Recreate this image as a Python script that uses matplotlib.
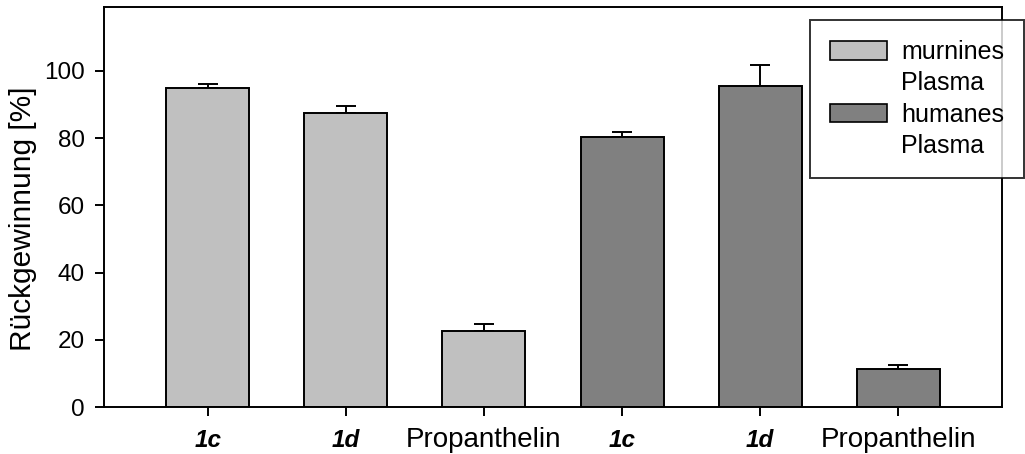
import matplotlib.pyplot as plt
from matplotlib.patches import Patch

plt.rcParams['font.family'] = ['Liberation Sans', 'DejaVu Sans']

# Daten
kategorien = ['1c', '1d', 'Propanthelin', '1c', '1d', 'Propanthelin']
werte = [94.8, 87.5, 22.5, 80.3, 95.5, 11.3]
fehler = [1.2, 2.1, 2.3, 1.6, 6.3, 1.1]
gruppe = [0, 0, 0, 1, 1, 1]
farben = ['#c0c0c0', '#808080']
legende = ['murnines', 'humanes']

fig = plt.figure(figsize=(10.25, 4.54), dpi=100)
ax = fig.add_axes([104 / 1025, 47 / 454, 898 / 1025, 400 / 454])

x = list(range(len(werte)))
ax.bar(x, werte, width=0.6, color=[farben[g] for g in gruppe],
       edgecolor='black', linewidth=1.4, zorder=2)
ax.errorbar(x, werte, yerr=[[0] * len(fehler), fehler], fmt='none',
            ecolor='black', elinewidth=1.4, capsize=7, capthick=1.4, zorder=1)

ax.set_xlim(-0.75, 5.75)
ax.set_ylim(0, 119)
ax.set_yticks([0, 20, 40, 60, 80, 100])
ax.set_xticks(x)
ax.set_xticklabels(kategorien)
for lab in ax.get_xticklabels():
    lab.set_verticalalignment('baseline')
    if lab.get_text() == 'Propanthelin':
        lab.set_fontsize(20)
    else:
        lab.set_fontsize(17.5)
        lab.set_fontweight('bold')
        lab.set_fontstyle('italic')
ax.tick_params(axis='y', labelsize=17.5, length=6.5, width=1.4,
               direction='out', pad=7.5)
ax.tick_params(axis='x', length=6.5, width=1.4, direction='out', pad=22.5)
for s in ax.spines.values():
    s.set_linewidth(1.4)
ax.set_ylabel('Rückgewinnung [%]', fontsize=21.5)
ax.yaxis.set_label_coords(-0.0746, 0.47)

# Legende
handles = [Patch(facecolor=farben[0], edgecolor='black', linewidth=1.2),
           Patch(facecolor='none', edgecolor='none'),
           Patch(facecolor=farben[1], edgecolor='black', linewidth=1.2),
           Patch(facecolor='none', edgecolor='none')]
labels = [legende[0], 'Plasma', legende[1], 'Plasma']
leg = fig.legend(handles, labels, loc='upper left',
                 bbox_to_anchor=(810 / 1025, 1 - 20 / 454),
                 fontsize=18, frameon=True, fancybox=False,
                 handlelength=2.28, handleheight=0.76, handletextpad=0.56,
                 borderpad=0.8, labelspacing=0.29, borderaxespad=0)
leg.get_frame().set_edgecolor('black')
leg.get_frame().set_linewidth(1.4)

fig.savefig('out.png', dpi=100)
